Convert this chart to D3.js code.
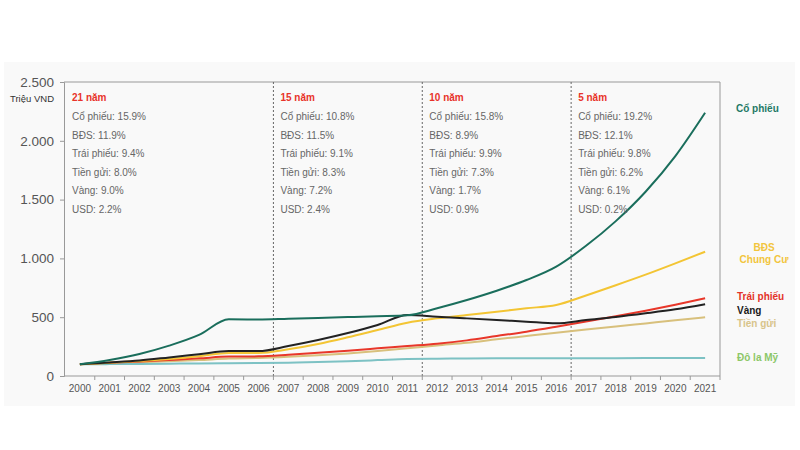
<!DOCTYPE html>
<html><head><meta charset="utf-8">
<script src="https://cdn.jsdelivr.net/npm/d3@7"></script>
<style>
html,body{margin:0;padding:0;background:#fff;}
svg{display:block;font-family:"Liberation Sans",Arial,sans-serif;}
</style></head>
<body><svg id="c" width="800" height="450"></svg>
<script>
const years = d3.range(2000, 2022).map(String);
const coPhieu  = [100,136,187,258,349,482,480,487,494,501,508,516,576,646,725,816,930,1107,1317,1567,1870,2239];
const bds      = [100,113,127,145,168,196,196,227,272,329,391,453,490,519,547,576,604,685,772,862,958,1057];
const traiPhieu= [100,112,124,137,150,165,167,180,197,215,235,255,275,303,340,377,419,463,508,555,606,661];
const vang     = [100,115,132,158,185,212,212,255,306,365,434,519,504,490,476,462,448,476,502,533,567,610];
const tienGui  = [100,108,116,125,135,148,153,163,176,192,212,235,260,283,312,340,368,395,420,447,474,499];
const usd      = [100,101,103,105,107,108,110,113,118,125,135,145,147,149,150,150,151,152,152,153,153,153];
const yTicks = [0,500,1000,1500,2000,2500];
const periodStarts = ["2007","2012","2017"];

const blocks = [
  {title:"21 năm", start:"2000", items:["Cổ phiếu: 15.9%","BĐS: 11.9%","Trái phiếu: 9.4%","Tiền gửi: 8.0%","Vàng: 9.0%","USD: 2.2%"]},
  {title:"15 năm", start:"2007", items:["Cổ phiếu: 10.8%","BĐS: 11.5%","Trái phiếu: 9.1%","Tiền gửi: 8.3%","Vàng: 7.2%","USD: 2.4%"]},
  {title:"10 năm", start:"2012", items:["Cổ phiếu: 15.8%","BĐS: 8.9%","Trái phiếu: 9.9%","Tiền gửi: 7.3%","Vàng: 1.7%","USD: 0.9%"]},
  {title:"5 năm", start:"2017", items:["Cổ phiếu: 19.2%","BĐS: 12.1%","Trái phiếu: 9.8%","Tiền gửi: 6.2%","Vàng: 6.1%","USD: 0.2%"]}
];

const series = [
  {name:"Tiền gửi", values:tienGui, color:"#d8c07c"},
  {name:"Đô la Mỹ", values:usd, color:"#7dc2c4"},
  {name:"Trái phiếu", values:traiPhieu, color:"#e8372a"},
  {name:"BĐS", values:bds, color:"#f3c534"},
  {name:"Vàng", values:vang, color:"#222222"},
  {name:"Cổ phiếu", values:coPhieu, color:"#1a6e5c"}
];

const legend = [
  {lines:["Cổ phiếu"], color:"#1f7a66", x:736, y:112, anchor:"start"},
  {lines:["BĐS","Chung Cư"], color:"#f2c53d", x:764, y:251, anchor:"middle"},
  {lines:["Trái phiếu"], color:"#e3342a", x:737, y:300, anchor:"start"},
  {lines:["Vàng"], color:"#1a1a1a", x:737, y:314, anchor:"start"},
  {lines:["Tiền gửi"], color:"#d8c48a", x:737, y:327, anchor:"start"},
  {lines:["Đô la Mỹ"], color:"#8cc768", x:737, y:361, anchor:"start"}
];

const svg = d3.select("#c");
const L = 64, R = 720, T = 82, B = 376;

svg.append("rect").attr("x",4).attr("y",62).attr("width",791).attr("height",344).attr("fill","#f9f9f9");

const xb = d3.scaleBand().domain(years).range([65, R]).padding(0);
const xc = d => xb(d) + xb.bandwidth()/2;
const y = d3.scaleLinear().domain([0,2500]).range([B, T]);

svg.append("line").attr("x1",L).attr("x2",R).attr("y1",T).attr("y2",T).attr("stroke","#999").attr("stroke-width",1);
svg.append("line").attr("x1",R).attr("x2",R).attr("y1",T).attr("y2",B).attr("stroke","#999").attr("stroke-width",1);

svg.selectAll(".sep").data(periodStarts).enter().append("line")
  .attr("x1",d=>xb(d)).attr("x2",d=>xb(d)).attr("y1",T).attr("y2",B)
  .attr("stroke","#666").attr("stroke-width",1).attr("stroke-dasharray","2,2");

const ya = svg.append("g").attr("transform",`translate(${L},0)`)
  .call(d3.axisLeft(y).tickValues(yTicks).tickSize(4).tickPadding(6)
    .tickFormat(d => d3.format(",")(d).replace(/,/g,".")));
ya.select(".domain").attr("stroke","#999");
ya.selectAll(".tick line").attr("stroke","#999");
ya.selectAll("text").attr("font-size",13.5).attr("fill","#555").attr("font-family","Liberation Sans, Arial, sans-serif");

const xa = svg.append("g").attr("transform",`translate(0,${B})`)
  .call(d3.axisBottom(xb).tickSize(0).tickPadding(9));
xa.select(".domain").remove();
xa.selectAll("text").attr("font-size",10).attr("fill","#555").attr("font-family","Liberation Sans, Arial, sans-serif");
svg.append("line").attr("x1",L).attr("x2",R).attr("y1",B).attr("y2",B).attr("stroke","#999");
svg.selectAll(".xt").data(years.slice(1).concat(["end"])).enter().append("line")
  .attr("x1",d=>d==="end"?R:xb(d)).attr("x2",d=>d==="end"?R:xb(d))
  .attr("y1",B).attr("y2",B+4).attr("stroke","#999");

svg.append("text").attr("x",10).attr("y",102).attr("font-size",9.5).attr("fill","#333").text("Triệu VND");

const line = d3.line().x((d,i)=>xc(years[i])).y(d=>y(d)).curve(d3.curveMonotoneX);
svg.selectAll(".ln").data(series).enter().append("path")
  .attr("d",d=>line(d.values)).attr("fill","none")
  .attr("stroke",d=>d.color).attr("stroke-width",2).attr("stroke-linejoin","round");

blocks.forEach(b=>{
  const x0 = xb(b.start) + 7;
  const g = svg.append("g");
  g.append("text").attr("x",x0).attr("y",101).attr("font-size",10).attr("font-weight","bold")
    .attr("fill","#e8332a").text(b.title);
  b.items.forEach((t,i)=>{
    g.append("text").attr("x",x0).attr("y",120+i*18.6).attr("font-size",10)
      .attr("fill","#666").text(t);
  });
});

legend.forEach(l=>{
  l.lines.forEach((t,i)=>{
    svg.append("text").attr("x",l.x).attr("y",l.y+i*12).attr("text-anchor",l.anchor)
      .attr("font-size",10).attr("font-weight","bold").attr("fill",l.color).text(t);
  });
});
</script></body></html>
